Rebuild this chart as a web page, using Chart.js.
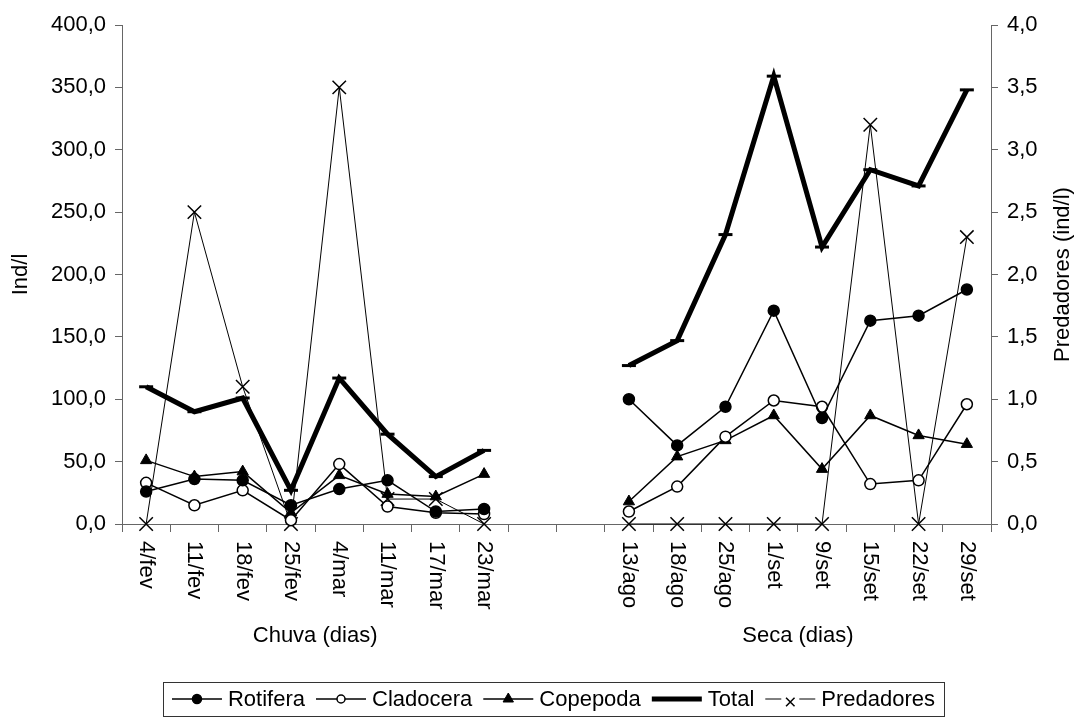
<!DOCTYPE html>
<html><head><meta charset="utf-8">
<script src="https://cdn.jsdelivr.net/npm/chart.js@4"></script>
<style>html,body{margin:0;padding:0;background:#fff}canvas{display:block}</style>
</head><body>
<canvas id="c" width="1077" height="718"></canvas>
<script>
// ---- data ----
const categories = ['4/fev','11/fev','18/fev','25/fev','4/mar','11/mar','17/mar','23/mar','','',
                    '13/ago','18/ago','25/ago','1/set','9/set','15/set','22/set','29/set'];
const rotifera   = [26, 36, 35, 15, 28, 35, 10, 12, null, null, 100, 63, 94, 171, 85, 163, 167, 188];
const cladocera  = [33, 15, 27, 3, 48, 14, 9, 8, null, null, 10, 30, 70, 99, 94, 32, 35, 96];
const copepoda   = [51, 38, 42, 9, 39, 24, 22, 40, null, null, 18, 54, 67, 87, 44, 87, 71, 64];
const total      = [110, 90, 101, 27, 117, 72, 38, 59, null, null, 127, 147, 232, 359, 222, 284, 271, 348];
const predadores = [0, 2.5, 1.1, 0, 3.5, 0.2, 0.2, 0, null, null, 0, 0, 0, 0, 0, 3.2, 0, 2.3];
const seriesNames = ['Rotifera','Cladocera','Copepoda','Total','Predadores'];
const groupTitles = ['Chuva (dias)','Seca (dias)'];
const groupRanges = [[0,7],[10,17]];
const leftTitle = 'Ind/l';
const rightTitle = 'Predadores (ind/l)';
const leftMax = 400, leftStep = 50, rightMax = 4, rightStep = 0.5;

const FONT = '"Liberation Sans", Arial, sans-serif';
const FS = 22;
Chart.defaults.font.family = FONT;
Chart.defaults.font.size = FS;
Chart.defaults.color = '#000';
const AX = '#666';
const fmt = v => Number(v).toFixed(1).replace('.', ',');

const styles = [
  {pointStyle:'circle', radius:5.5, bg:'#000', bw:1.5, lw:1.5, lr:4.5, gap:0},
  {pointStyle:'circle', radius:5.5, bg:'#fff', bw:1.5, lw:1.5, lr:4, gap:0},
  {pointStyle:'triangle', radius:6.5, bg:'#000', bw:1, lw:1.5, lr:6, gap:0},
  {pointStyle:'line', radius:7, bg:'#000', bw:3, lw:5, lr:0, gap:0},
  {pointStyle:'crossRot', radius:9.5, bg:'#000', bw:1.5, lw:1, lr:6, gap:9}
];
const seriesData = [rotifera, cladocera, copepoda, total, predadores];

const datasets = seriesData.map((d, i) => ({
  label: seriesNames[i],
  data: d,
  yAxisID: i === 4 ? 'y1' : 'y',
  borderColor: '#000',
  borderWidth: styles[i].lw,
  pointStyle: styles[i].pointStyle,
  pointRadius: styles[i].radius,
  pointHoverRadius: styles[i].radius,
  pointBackgroundColor: styles[i].bg,
  pointBorderColor: '#000',
  pointBorderWidth: styles[i].bw,
  tension: 0,
  spanGaps: false,
  clip: false,
  fill: false
}));

const decor = {
  id: 'decor',
  afterDraw(chart) {
    const ctx = chart.ctx, ca = chart.chartArea, xs = chart.scales.x;
    ctx.save();
    ctx.fillStyle = '#000';
    ctx.font = FS + 'px ' + FONT;
    // x labels, rotated clockwise
    categories.forEach((lab, i) => {
      if (!lab) return;
      const x = xs.getPixelForValue(i);
      ctx.save();
      ctx.translate(x, ca.bottom + 17);
      ctx.rotate(Math.PI / 2);
      ctx.textAlign = 'left';
      ctx.textBaseline = 'middle';
      ctx.fillText(lab, 0, 0);
      ctx.restore();
    });
    // group titles
    ctx.textAlign = 'center';
    ctx.textBaseline = 'middle';
    groupTitles.forEach((t, g) => {
      const x = (xs.getPixelForValue(groupRanges[g][0]) + xs.getPixelForValue(groupRanges[g][1])) / 2;
      ctx.fillText(t, x, 636);
    });
    // axis titles
    const cy = (ca.top + ca.bottom) / 2;
    [[leftTitle, 21], [rightTitle, 1063]].forEach(([t, x]) => {
      ctx.save();
      ctx.translate(x, cy);
      ctx.rotate(-Math.PI / 2);
      ctx.fillText(t, 0, 0);
      ctx.restore();
    });
    // legend
    const sample = 50, gapT = 6, gapI = 11, pad = 9;
    const widths = seriesNames.map(n => ctx.measureText(n).width);
    const W = widths.reduce((a, b) => a + b, 0) + seriesNames.length * (sample + gapT) + (seriesNames.length - 1) * gapI + 2 * pad;
    const bx = (ca.left + ca.right) / 2 - 3 - W / 2, by = 682, bh = 34;
    ctx.strokeStyle = '#333';
    ctx.lineWidth = 1;
    ctx.strokeRect(Math.round(bx) + 0.5, by + 0.5, Math.round(W), bh);
    let x = bx + pad;
    const ly = by + bh / 2;
    ctx.textAlign = 'left';
    seriesNames.forEach((n, i) => {
      const s = styles[i];
      ctx.strokeStyle = '#000';
      ctx.lineWidth = s.lw;
      ctx.beginPath();
      if (s.gap > 0) {
        ctx.moveTo(x, ly); ctx.lineTo(x + sample / 2 - s.gap, ly);
        ctx.moveTo(x + sample / 2 + s.gap, ly); ctx.lineTo(x + sample, ly);
      } else {
        ctx.moveTo(x, ly); ctx.lineTo(x + sample, ly);
      }
      ctx.stroke();
      if (s.lr > 0) {
        ctx.fillStyle = s.bg;
        ctx.strokeStyle = '#000';
        ctx.lineWidth = s.bw;
        Chart.helpers.drawPoint(ctx, {pointStyle: s.pointStyle, radius: s.lr, borderWidth: s.bw, rotation: 0}, x + sample / 2, ly + (s.gap ? 3 : 0));
      }
      ctx.fillStyle = '#000';
      ctx.fillText(n, x + sample + gapT, ly + 1);
      x += sample + gapT + widths[i] + gapI;
    });
    ctx.restore();
  }
};

new Chart(document.getElementById('c'), {
  type: 'line',
  data: { labels: categories, datasets },
  options: {
    responsive: false,
    animation: false,
    events: [],
    layout: { padding: { top: 25, bottom: 0, left: 0, right: 0 } },
    plugins: { legend: { display: false }, tooltip: { enabled: false } },
    scales: {
      x: {
        type: 'category',
        offset: true,
        grid: { offset: true, drawOnChartArea: false, drawTicks: true, tickLength: 8, color: AX },
        border: { color: AX, width: 1 },
        ticks: { display: false, autoSkip: false },
        afterFit: s => { s.height = 194; }
      },
      y: {
        position: 'left', min: 0, max: leftMax,
        ticks: { stepSize: leftStep, callback: v => fmt(v), padding: 9 },
        grid: { drawOnChartArea: false, tickLength: 7, color: AX },
        border: { color: AX, width: 1 },
        afterFit: s => { s.width = 122; }
      },
      y1: {
        position: 'right', min: 0, max: rightMax,
        ticks: { stepSize: rightStep, callback: v => fmt(v), padding: 9 },
        grid: { drawOnChartArea: false, tickLength: 7, color: AX },
        border: { color: AX, width: 1 },
        afterFit: s => { s.width = 86; }
      }
    }
  },
  plugins: [decor]
});
</script>
</body></html>
